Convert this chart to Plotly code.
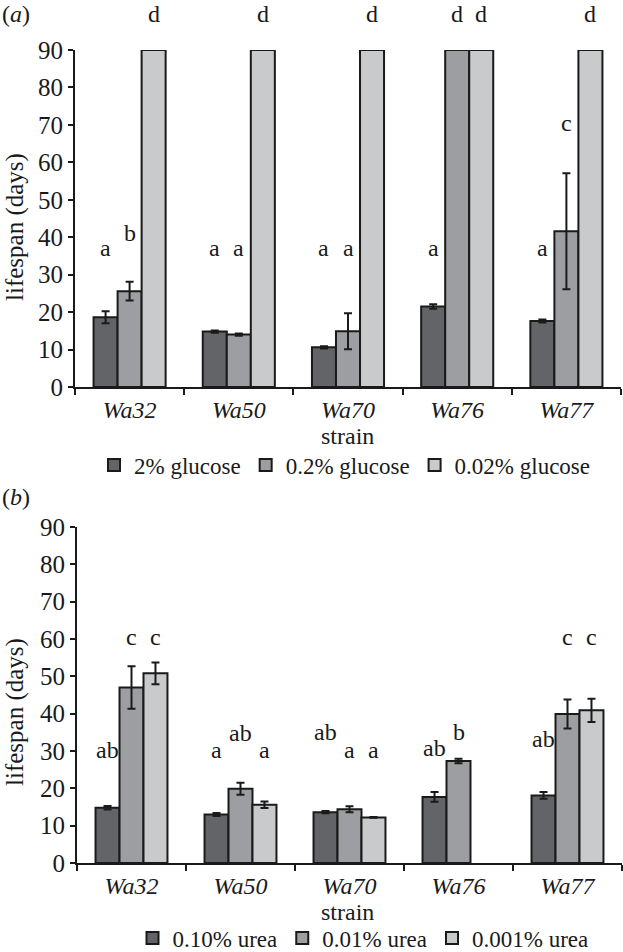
import plotly.graph_objects as go

strains = ["Wa32", "Wa50", "Wa70", "Wa76", "Wa77"]

# Panel (a): glucose
glu_names = ["2% glucose", "0.2% glucose", "0.02% glucose"]
glu_2 = [18.6, 14.8, 10.6, 21.5, 17.6]
glu_2_err = [1.6, 0.3, 0.3, 0.6, 0.4]
glu_02 = [25.6, 14.0, 14.9, 90, 41.6]
glu_02_err = [2.5, 0.3, 4.8, None, 15.5]
glu_002 = [90, 90, 90, 90, 90]
glu_002_err = [None, None, None, None, None]
glu_letters = [["a", "b", "d"], ["a", "a", "d"], ["a", "a", "d"], ["a", "d", "d"], ["a", "c", "d"]]
glu_letter_y = [[37, 41, 99.5], [37, 37, 99.5], [37, 37, 99.5], [37, 99.5, 99.5], [37, 70.5, 99.5]]

# Panel (b): urea
urea_names = ["0.10% urea", "0.01% urea", "0.001% urea"]
urea_1 = [14.8, 13.0, 13.6, 17.7, 18.1]
urea_1_err = [0.5, 0.4, 0.3, 1.3, 0.9]
urea_01 = [47.0, 19.9, 14.4, 27.3, 39.9]
urea_01_err = [5.7, 1.6, 0.8, 0.6, 3.9]
urea_001 = [50.8, 15.6, 12.2, None, 40.9]
urea_001_err = [2.9, 0.9, 0.1, None, 3.1]
urea_letters = [["ab", "c", "c"], ["a", "ab", "a"], ["ab", "a", "a"], ["ab", "b", ""], ["ab", "c", "c"]]
urea_letter_y = [[30.2, 60.5, 60.5], [30.2, 34.7, 30.2], [35.1, 30.2, 30.2], [30.7, 35.0, 0], [33.3, 60.5, 60.5]]

YMAX = 90
colors = ["#636467", "#9d9ea2", "#c9cacc"]
FONT = "Times New Roman, Liberation Serif, Times, serif"
FS = 24
INK = "#1a1a1a"

fig = go.Figure()

def add_bars(names, vals, errs, xa, ya, legend):
    for name, v, e, c in zip(names, vals, errs, colors):
        fig.add_trace(go.Bar(
            x=strains, y=v, name=name, xaxis=xa, yaxis=ya, legend=legend,
            marker=dict(color=c, line=dict(color=INK, width=2)),
            error_y=dict(type="data", array=e, color=INK, thickness=2, width=4, visible=True),
            cliponaxis=False,
        ))

add_bars(glu_names, [glu_2, glu_02, glu_002], [glu_2_err, glu_02_err, glu_002_err], "x", "y", "legend")
add_bars(urea_names, [urea_1, urea_01, urea_001], [urea_1_err, urea_01_err, urea_001_err], "x2", "y2", "legend2")

offsets = [-0.22, 0.0, 0.22]
anns = []
for xr, yr, letters, ly in [("x", "y domain", glu_letters, glu_letter_y), ("x2", "y2 domain", urea_letters, urea_letter_y)]:
    for i in range(len(strains)):
        for j in range(3):
            t = letters[i][j]
            if not t:
                continue
            anns.append(dict(x=i + offsets[j], y=ly[i][j] / YMAX, xref=xr, yref=yr, text=t, showarrow=False,
                             xanchor="center", yanchor="middle", font=dict(family=FONT, size=FS, color=INK)))

# axis titles and panel labels
for ytitle_center, strain_y, lab, ly in [(227, 436, "(<i>a</i>)", 14), (712, 912, "(<i>b</i>)", 497)]:
    anns.append(dict(x=15 / 623, y=1 - ytitle_center / 952, xref="paper", yref="paper", text="lifespan (days)",
                     textangle=-90, showarrow=False, xanchor="center", yanchor="middle",
                     font=dict(family=FONT, size=FS + 1, color=INK)))
    anns.append(dict(x=348 / 623, y=1 - strain_y / 952, xref="paper", yref="paper", text="strain",
                     showarrow=False, xanchor="center", yanchor="middle", font=dict(family=FONT, size=FS, color=INK)))
    anns.append(dict(x=0, y=1 - ly / 952, xref="paper", yref="paper", text=lab,
                     showarrow=False, xanchor="left", yanchor="middle", font=dict(family=FONT, size=FS, color=INK)))

xcommon = dict(showline=True, linecolor=INK, linewidth=2, ticks="outside", tickson="boundaries",
               ticklen=6, tickcolor=INK, tickwidth=2, showgrid=False, zeroline=False,
               tickfont=dict(family=FONT, size=FS, color=INK, style="italic"))
ycommon = dict(showline=True, linecolor=INK, linewidth=2, ticks="outside", ticklen=5,
               tickcolor=INK, tickwidth=2, showgrid=False, zeroline=False, range=[0, YMAX], dtick=10,
               tickfont=dict(family=FONT, size=FS + 1, color=INK))

legfont = dict(family=FONT, size=FS - 1, color=INK)
fig.update_layout(
    width=623, height=952, margin=dict(l=0, r=0, t=0, b=0, autoexpand=False),
    paper_bgcolor="white", plot_bgcolor="white",
    barmode="group", bargap=0.34, bargroupgap=0,
    xaxis=dict(domain=[75 / 623, 621 / 623], anchor="y", **xcommon),
    yaxis=dict(domain=[1 - 387 / 952, 1 - 50 / 952], anchor="x", **ycommon),
    xaxis2=dict(domain=[77 / 623, 622 / 623], anchor="y2", **xcommon),
    yaxis2=dict(domain=[1 - 863 / 952, 1 - 527 / 952], anchor="x2", **ycommon),
    legend=dict(orientation="h", x=345 / 623, xanchor="center", y=1 - 465 / 952, yanchor="middle",
                font=legfont, bgcolor="rgba(0,0,0,0)", traceorder="normal"),
    legend2=dict(orientation="h", x=363 / 623, xanchor="center", y=1 - 938 / 952, yanchor="middle",
                 font=legfont, bgcolor="rgba(0,0,0,0)", traceorder="normal"),
    annotations=anns,
    showlegend=True,
)

fig.write_html("out.html", config={"displayModeBar": False},
               post_script="document.body.style.margin='0';document.body.style.overflow='hidden';")
